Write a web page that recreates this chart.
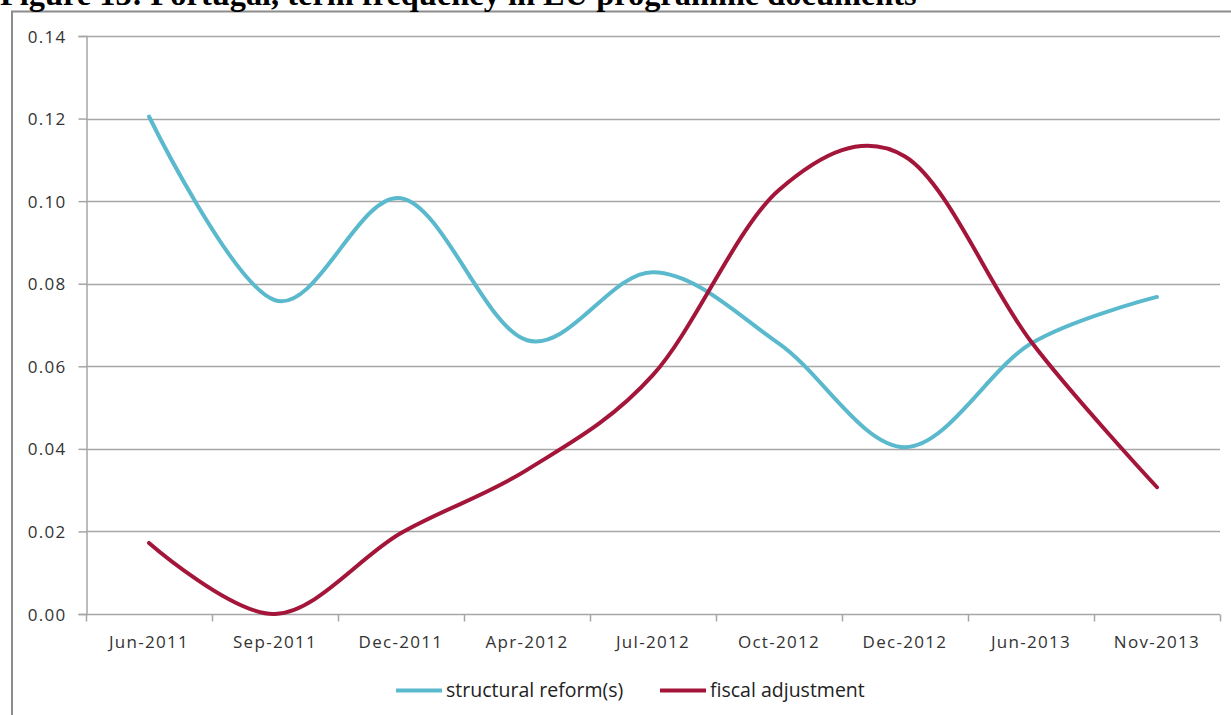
<!DOCTYPE html>
<html>
<head>
<meta charset="utf-8">
<script src="https://cdn.jsdelivr.net/npm/d3@7"></script>
<style>
  body { margin: 0; background: #fff; }
  svg { display: block; }
</style>
</head>
<body>
<div id="main"></div>
<script>
const width = 1231;
const height = 715;
const margin = { left: 86, right: 11, top: 36, bottom: 101 };

const categories = [
  "Jun-2011",
  "Sep-2011",
  "Dec-2011",
  "Apr-2012",
  "Jul-2012",
  "Oct-2012",
  "Dec-2012",
  "Jun-2013",
  "Nov-2013",
];
const structuralReform = [0.1205, 0.076, 0.1007, 0.0663, 0.0828, 0.0655, 0.0404, 0.0655, 0.0768];
const fiscalAdjustment = [0.0172, 0.0, 0.0196, 0.0349, 0.0579, 0.1027, 0.1108, 0.066, 0.0307];
const yTicks = [0, 0.02, 0.04, 0.06, 0.08, 0.1, 0.12, 0.14];

const seriesNames = ["structural reform(s)", "fiscal adjustment"];
const seriesColors = ["#5bb9cd", "#a3163a"];

let svg = d3
  .select("#main")
  .append("svg")
  .attr("width", width)
  .attr("height", height);

// frame of the figure (cut off on the right)
svg
  .append("path")
  .attr("d", `M12,${height} L12,11.5 L${width},11.5`)
  .attr("fill", "none")
  .attr("stroke", "#8c8c8c")
  .attr("stroke-width", 2);

// title, partly cut off at the top like the original
let title = svg
  .append("text")
  .attr("x", 0)
  .attr("y", 5)
  .attr("font-family", "Liberation Serif, Times New Roman, serif")
  .attr("font-weight", "bold")
  .attr("font-size", 24)
  .attr("fill", "#000")
  .text("Figure 13: Portugal, term frequency in EU programme documents");
let tw = title.node().getComputedTextLength();
title.attr("font-size", (24 * 917) / tw);

const x = d3
  .scaleBand()
  .domain(categories)
  .range([margin.left, width - margin.right]);

const y = d3
  .scaleLinear()
  .domain([0, 0.14])
  .range([height - margin.bottom, margin.top]);

// gridlines
svg
  .append("g")
  .attr("class", "grid")
  .selectAll("line")
  .data(yTicks.filter((d) => d > 0))
  .enter()
  .append("line")
  .attr("x1", margin.left)
  .attr("x2", width - margin.right)
  .attr("y1", (d) => Math.round(y(d)) + 0.5)
  .attr("y2", (d) => Math.round(y(d)) + 0.5)
  .attr("stroke", "#a6a6a6")
  .attr("stroke-width", 1.5);

// y axis
let yAxis = svg
  .append("g")
  .attr("transform", `translate(${margin.left + 0.5},0)`)
  .call(
    d3
      .axisLeft(y)
      .tickValues(yTicks)
      .tickFormat(d3.format(".2f"))
      .tickSize(8)
      .tickPadding(12)
  );
yAxis.select(".domain").attr("stroke", "#a6a6a6").attr("stroke-width", 1.5);
yAxis.selectAll(".tick line").attr("stroke", "#a6a6a6").attr("stroke-width", 1.5);
yAxis
  .selectAll(".tick text")
  .attr("font-family", "Open Sans, sans-serif")
  .attr("font-size", 17)
  .attr("letter-spacing", 1.3)
  .attr("dy", "0.36em")
  .attr("fill", "#333");

// x axis with ticks between categories
const bounds = d3.range(categories.length + 1).map((i) => margin.left + i * x.step());
let xAxis = svg.append("g").attr("transform", `translate(0,${Math.round(y(0)) + 0.5})`);
xAxis
  .append("line")
  .attr("x1", margin.left)
  .attr("x2", width - margin.right)
  .attr("stroke", "#a6a6a6")
  .attr("stroke-width", 1.5);
xAxis
  .selectAll(".xtick")
  .data(bounds)
  .enter()
  .append("line")
  .attr("class", "xtick")
  .attr("x1", (d) => Math.round(d) + 0.5)
  .attr("x2", (d) => Math.round(d) + 0.5)
  .attr("y1", 0)
  .attr("y2", 7)
  .attr("stroke", "#a6a6a6")
  .attr("stroke-width", 1.5);
xAxis
  .selectAll(".xlabel")
  .data(categories)
  .enter()
  .append("text")
  .attr("class", "xlabel")
  .attr("x", (d) => x(d) + x.bandwidth() / 2)
  .attr("y", 33)
  .attr("text-anchor", "middle")
  .attr("font-family", "Open Sans, sans-serif")
  .attr("font-size", 17)
  .attr("letter-spacing", 1.3)
  .attr("fill", "#333")
  .text((d) => d);

// lines
const line = d3
  .line()
  .x((d, i) => x(categories[i]) + x.bandwidth() / 2)
  .y((d) => y(d))
  .curve(d3.curveCardinal.tension(0));

[structuralReform, fiscalAdjustment].forEach((series, k) => {
  svg
    .append("path")
    .datum(series)
    .attr("d", line)
    .attr("fill", "none")
    .attr("stroke", seriesColors[k])
    .attr("stroke-width", 4)
    .attr("stroke-linecap", "round")
    .attr("stroke-linejoin", "round");
});

// legend
const legendX = [396, 660];
let legend = svg
  .append("g")
  .selectAll("g")
  .data(seriesNames)
  .enter()
  .append("g")
  .attr("transform", (d, i) => `translate(${legendX[i]},690.5)`);
legend
  .append("line")
  .attr("x1", 0)
  .attr("x2", 46)
  .attr("stroke", (d, i) => seriesColors[i])
  .attr("stroke-width", 4);
legend
  .append("text")
  .attr("x", 50)
  .attr("y", 6.5)
  .attr("font-family", "Open Sans, sans-serif")
  .attr("font-size", 19.5)
  .attr("fill", "#222")
  .text((d) => d);
</script>
</body>
</html>
